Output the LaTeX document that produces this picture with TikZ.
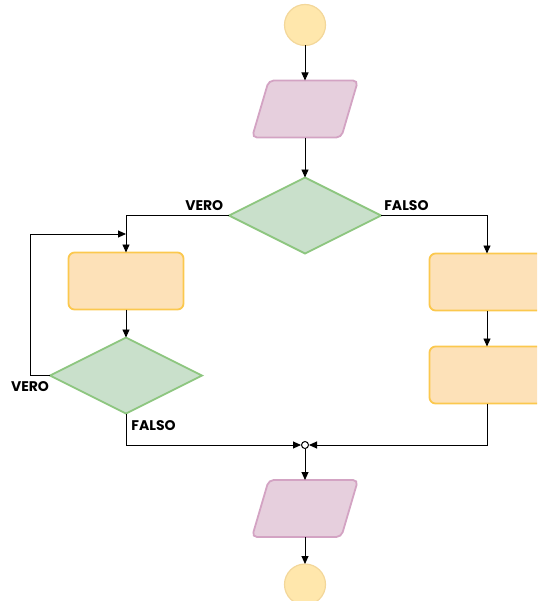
\documentclass[tikz,border=0pt]{standalone}
\usepackage{fontspec}
\setmainfont{Poppins}
\usepackage{xcolor}
\usetikzlibrary{arrows.meta, positioning, shapes.geometric, calc}

\definecolor{termfill}{HTML}{FFE7AC}
\definecolor{termline}{HTML}{F3D79A}
\definecolor{iofill}{HTML}{E6CFDD}
\definecolor{ioline}{HTML}{D3A3C3}
\definecolor{decfill}{HTML}{C9E0CB}
\definecolor{decline}{HTML}{8DC67F}
\definecolor{procfill}{HTML}{FDE1B8}
\definecolor{procline}{HTML}{FBC84E}

\begin{document}
\begin{tikzpicture}[
    x=1pt, y=1pt,
    font=\fontsize{14}{16}\selectfont\bfseries,
    term/.style={circle, draw=termline, fill=termfill, line width=1.2pt, minimum size=41pt, inner sep=0pt, outer sep=0pt},
    io/.style={trapezium, trapezium left angle=77, trapezium right angle=103, trapezium stretches=true, draw=ioline, fill=iofill, line width=1.8pt, rounded corners=5pt, minimum width=106pt, minimum height=57pt, inner sep=2pt, outer sep=0pt},
    decision/.style={diamond, draw=decline, fill=decfill, line width=1.8pt, minimum width=152pt, minimum height=76pt, inner sep=0pt, outer sep=0pt},
    proc/.style={draw=procline, fill=procfill, line width=1.8pt, rounded corners=6pt, minimum width=115pt, minimum height=57pt, inner sep=0pt, outer sep=0pt},
    junc/.style={circle, draw, fill=white, line width=1pt, minimum size=7pt, inner sep=0pt},
    lab/.style={inner sep=4pt},
    arrow/.style={-{Triangle[length=8pt, width=7pt]}, line width=0.9pt}
]
\clip (0,0) rectangle (537,-601);

% --- Blocks ---
\node[term] (start) at (305,-25) {};
\node[io, below=35pt of start] (in1) {};
\node[decision, below=40pt of in1] (dec1) {};

\node[proc, below=37pt of dec1.west, xshift=-103pt] (boxL) {};
\node[decision, below=28pt of boxL] (dec2) {};

\node[proc, below=38pt of dec1.east, xshift=106pt] (boxR1) {};
\node[proc, below=36pt of boxR1] (boxR2) {};

\node[junc] (join) at (305,-445) {};
\node[io, below=31pt of join] (in2) {};
\node[term, below=27pt of in2] (stop) {};

\coordinate (loopin) at ($(dec1.west -| boxL)!0.5!(boxL.north)$);

% --- Arrows ---
\draw[arrow] (start) -- (in1);
\draw[arrow] (in1) -- (dec1);
\draw[arrow] (dec1.west) -| node[lab, above, pos=0.12] {VERO} (boxL.north);
\draw[arrow] (dec1.east) -| node[lab, above, pos=0.12] {FALSO} (boxR1.north);
\draw[arrow] (boxL) -- (dec2);
\draw[arrow] (dec2.west) -- node[lab, below, pos=1, yshift=-2pt] {VERO} ++(-20,0) |- (loopin);
\draw[arrow] (boxR1) -- (boxR2);
\draw[arrow] (dec2.south) |- node[lab, right, pos=0.19, xshift=1pt] {FALSO} (join.west);
\draw[arrow] (boxR2.south) |- (join.east);
\draw[arrow] (join) -- (in2);
\draw[arrow] (in2) -- (stop);

\end{tikzpicture}
\end{document}
